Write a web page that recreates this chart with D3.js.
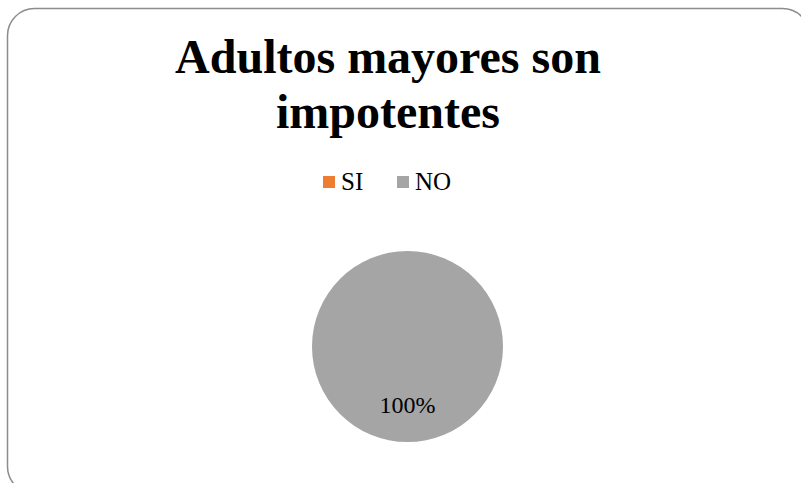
<!DOCTYPE html>
<html><head><meta charset="utf-8">
<script src="https://cdn.jsdelivr.net/npm/d3@7"></script>
<style>html,body{margin:0;padding:0;background:#fff;overflow:hidden}</style>
</head><body>
<svg id="c" width="801" height="483"></svg>
<script>
const categories = ["SI", "NO"];
const values = [0, 100];
const colors = ["#ED7D31", "#A5A5A5"];
const titleLines = ["Adultos mayores son", "impotentes"];

const svg = d3.select("#c");
const font = '"Liberation Serif"';

svg.append("rect").attr("x", 7.5).attr("y", 8.5).attr("width", 802).attr("height", 485)
  .attr("rx", 27).attr("ry", 27).attr("fill", "#fff").attr("stroke", "#8c8c8c").attr("stroke-width", 1.5);

svg.selectAll("text.title").data(titleLines).join("text").attr("class", "title")
  .attr("x", 388).attr("y", (d, i) => 73 + i * 55)
  .attr("text-anchor", "middle")
  .style("font-family", font).style("font-weight", "bold").style("font-size", "48px")
  .attr("fill", "#000").text(d => d);

const legendX = d3.scaleOrdinal().domain(categories).range([323, 397]);
const lg = svg.selectAll("g.lg").data(categories).join("g").attr("class", "lg")
  .attr("transform", d => `translate(${legendX(d)},176)`);
lg.append("rect").attr("width", 12).attr("height", 12).attr("fill", (d, i) => colors[i]);
lg.append("text").attr("x", 18).attr("y", 14)
  .style("font-family", font).style("font-size", "25px")
  .attr("fill", "#000").text(d => d);

const cx = 407.5, cy = 346.5, r = 95.5;
const pie = d3.pie().sort(null).value(d => d.v);
const data = pie(categories.map((c, i) => ({ c, v: values[i], col: colors[i] })));
const arc = d3.arc().innerRadius(0).outerRadius(r);
const labelArc = d3.arc().innerRadius(r * 0.61).outerRadius(r * 0.61);
const g = svg.append("g").attr("transform", `translate(${cx},${cy})`);
g.selectAll("path").data(data.filter(d => d.data.v > 0)).join("path")
  .attr("d", arc).attr("fill", d => d.data.col);
const total = d3.sum(values);
g.selectAll("text").data(data.filter(d => d.data.v > 0)).join("text")
  .attr("transform", d => `translate(${labelArc.centroid(d)})`)
  .attr("text-anchor", "middle").attr("dy", "0.35em")
  .style("font-family", font).style("font-size", "24px").attr("fill", "#000")
  .text(d => Math.round(d.data.v / total * 100) + "%");
</script>
</body></html>
